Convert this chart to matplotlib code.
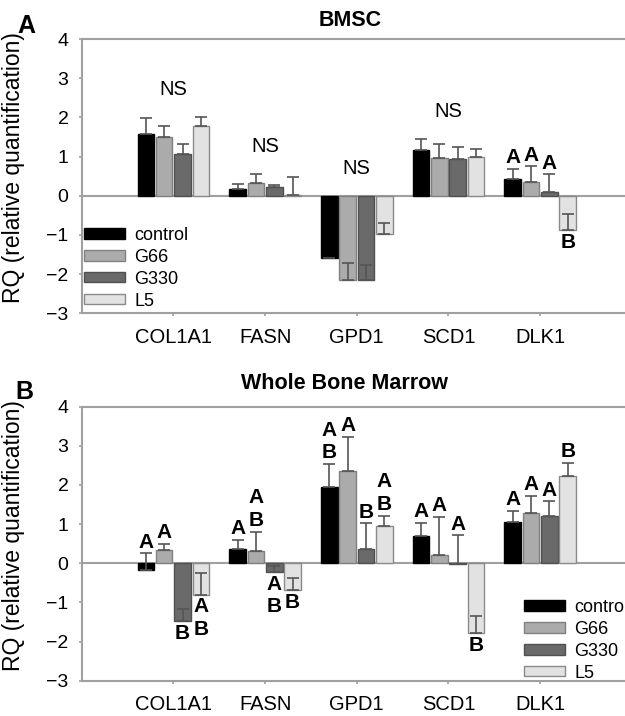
import numpy as np
import matplotlib
matplotlib.use('Agg')
import matplotlib.pyplot as plt

plt.rcParams['font.family'] = ['Liberation Sans', 'DejaVu Sans']

# genes and treatment groups
genes = ['COL1A1', 'FASN', 'GPD1', 'SCD1', 'DLK1']
groups = ['control', 'G66', 'G330', 'L5']

# panel A: BMSC (mean RQ and upper error)
bmsc_control = [1.57, 0.18, -1.59, 1.17, 0.43]
bmsc_g66 = [1.49, 0.33, -2.14, 0.96, 0.36]
bmsc_g330 = [1.06, 0.23, -2.16, 0.94, 0.10]
bmsc_l5 = [1.79, 0.02, -0.97, 0.98, -0.87]
bmsc_control_err = [0.42, 0.11, np.nan, 0.28, 0.26]
bmsc_g66_err = [0.29, 0.23, 0.42, 0.36, 0.39]
bmsc_g330_err = [0.25, 0.05, 0.40, 0.30, 0.45]
bmsc_l5_err = [0.23, 0.47, 0.27, 0.21, 0.41]
bmsc_letters = [['', '', '', '', 'A'],
                ['', '', '', '', 'A'],
                ['', '', '', '', 'A'],
                ['', '', '', '', 'B']]
bmsc_ns = ['NS', 'NS', 'NS', 'NS', '']

# panel B: whole bone marrow
wbm_control = [-0.17, 0.37, 1.96, 0.69, 1.06]
wbm_g66 = [0.34, 0.32, 2.35, 0.21, 1.28]
wbm_g330 = [-1.48, -0.22, 0.37, -0.02, 1.20]
wbm_l5 = [-0.80, -0.69, 0.96, -1.78, 2.22]
wbm_control_err = [0.42, 0.23, 0.58, 0.35, 0.28]
wbm_g66_err = [0.16, 0.49, 0.88, 0.98, 0.45]
wbm_g330_err = [0.30, 0.15, 0.65, 0.74, 0.38]
wbm_l5_err = [0.54, 0.32, 0.26, 0.43, 0.35]
wbm_letters = [['A', 'A', 'A\nB', 'A', 'A'],
               ['A', 'A\nB', 'A', 'A', 'A'],
               ['B', 'A\nB', 'B', 'A', 'A'],
               ['A\nB', 'B', 'A\nB', 'B', 'B']]
wbm_ns = ['', '', '', '', '']

face_colors = ['#000000', '#ababab', '#6a6a6a', '#e2e2e2']
edge_colors = ['#000000', '#808080', '#505050', '#8a8a8a']
spine_col = '#a0a0a0'


def draw_panel(ax, means, errs, letters, ns, legend_xy):
    x = np.arange(len(genes))
    ax.axhline(0, color=spine_col, lw=1.5, zorder=1)
    for i, name in enumerate(groups):
        xs = x + (i - 1.5) * 0.2
        vals = np.array(means[i])
        err = np.array(errs[i], dtype=float)
        ax.bar(xs, vals, width=0.18, color=face_colors[i], edgecolor=edge_colors[i],
               linewidth=1, label=name, zorder=2)
        ax.errorbar(xs, vals, yerr=[np.zeros(len(vals)), err], fmt='none',
                    ecolor='#555555', elinewidth=1.2, capsize=4, capthick=1.2, zorder=3)
        for j in range(len(genes)):
            lab = letters[i][j]
            if not lab:
                continue
            cap = vals[j] + (0 if np.isnan(err[j]) else err[j])
            if cap > 0:
                ax.annotate(lab, (xs[j], cap), xytext=(0, 1), textcoords='offset points',
                            ha='center', va='bottom', fontsize=15, fontweight='bold',
                            linespacing=1.25)
            else:
                ax.annotate(lab, (xs[j], vals[j]), xytext=(0, -2), textcoords='offset points',
                            ha='center', va='top', fontsize=15, fontweight='bold',
                            linespacing=1.25)
    # NS above each group
    for j in range(len(genes)):
        if not ns[j]:
            continue
        top = max(0, max(means[i][j] + np.nan_to_num(errs[i][j]) for i in range(4)))
        ax.annotate(ns[j], (x[j], top), xytext=(0, 13), textcoords='offset points',
                    ha='center', va='bottom', fontsize=14.5)

    ax.set_xlim(-1, 4.925)
    ax.set_ylim(-3, 4)
    ax.set_yticks(range(-3, 5))
    ax.set_xticks(x)
    ax.set_xticklabels(genes)
    ax.tick_params(axis='y', labelsize=14, length=2.5, width=1.2, color=spine_col, pad=7)
    ax.tick_params(axis='x', labelsize=14.5, length=2.5, width=1.2, color=spine_col, pad=8)
    for s in ['left', 'bottom', 'top']:
        ax.spines[s].set_color(spine_col)
        ax.spines[s].set_linewidth(1.5)
    ax.spines['right'].set_visible(False)
    ax.set_ylabel('RQ (relative quantification)', fontsize=16.5)
    ax.yaxis.set_label_coords(-0.105, 0.53)

    ax.legend(loc='upper left', bbox_to_anchor=legend_xy, frameon=False, fontsize=13,
              handlelength=2.3, handleheight=0.5, handletextpad=0.5, labelspacing=0.27,
              borderpad=0, borderaxespad=0)


fig = plt.figure(figsize=(6.25, 7.16), dpi=100)
ax1 = fig.add_axes([0.1307, 0.5624, 0.8693, 0.3831])
ax2 = fig.add_axes([0.1307, 0.0493, 0.8693, 0.3827])

draw_panel(ax1, [bmsc_control, bmsc_g66, bmsc_g330, bmsc_l5],
           [bmsc_control_err, bmsc_g66_err, bmsc_g330_err, bmsc_l5_err],
           bmsc_letters, bmsc_ns, (0.004, 0.315))
draw_panel(ax2, [wbm_control, wbm_g66, wbm_g330, wbm_l5],
           [wbm_control_err, wbm_g66_err, wbm_g330_err, wbm_l5_err],
           wbm_letters, wbm_ns, (0.814, 0.298))

ax1.text(0.494, 1.066, 'BMSC', transform=ax1.transAxes, ha='center', va='center',
         fontsize=15.5, fontweight='bold')
ax2.text(0.483, 1.086, 'Whole Bone Marrow', transform=ax2.transAxes, ha='center',
         va='center', fontsize=15.5, fontweight='bold')
fig.text(26 / 625, 1 - 26 / 716, 'A', ha='center', va='center', fontsize=18, fontweight='bold')
fig.text(24 / 625, 1 - 392 / 716, 'B', ha='center', va='center', fontsize=18, fontweight='bold')

plt.savefig('out.png', dpi=100)
